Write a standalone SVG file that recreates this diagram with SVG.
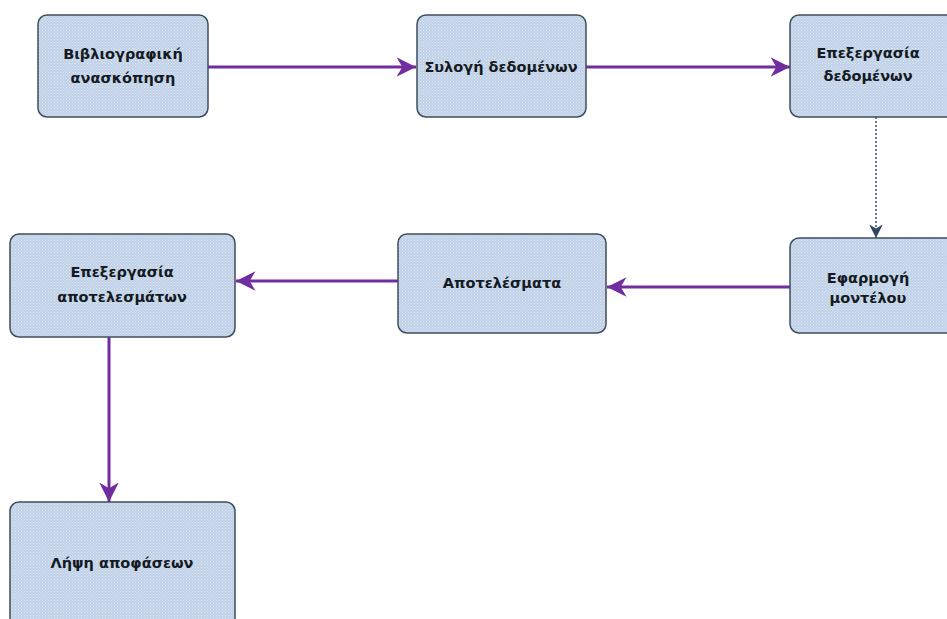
<svg xmlns="http://www.w3.org/2000/svg" width="947" height="619" viewBox="0 0 947 619">
<style>
.box{stroke:#3f4e5e;stroke-width:1.5;fill:url(#dots)}
.lbl{font-family:"DejaVu Sans",Verdana,sans-serif;font-weight:bold;font-size:14.5px;fill:#141a22;text-anchor:middle}
.pl{stroke:#6f2da0;stroke-width:3;fill:none}
.dl{stroke:#3a4a5c;stroke-width:1.5;stroke-dasharray:2 2;fill:none}
</style>
<defs>
<pattern id="dots" width="3" height="3" patternUnits="userSpaceOnUse">
<rect width="3" height="3" fill="#c1d1e8"/>
<rect x="0" y="0" width="1" height="1" fill="#dce5f2"/>
<rect x="1.5" y="1.5" width="1" height="1" fill="#dce5f2"/>
</pattern>
<marker id="ap" viewBox="0 0 10 10" refX="10" refY="5" markerWidth="6.5" markerHeight="6.5" markerUnits="strokeWidth" orient="auto">
<path d="M0,0 L10,5 L0,10 L3,5 z" fill="#6f2da0"/>
</marker>
<marker id="ad" viewBox="0 0 10 10" refX="10" refY="5" markerWidth="9" markerHeight="9" markerUnits="strokeWidth" orient="auto">
<path d="M0,0 L10,5 L0,10 L3,5 z" fill="#2f4560"/>
</marker>
</defs>
<rect width="947" height="619" fill="#ffffff"/>
<g id="connectors">
<line class="pl" x1="208" y1="67" x2="416" y2="67" marker-end="url(#ap)"/>
<line class="pl" x1="586" y1="67" x2="790" y2="67" marker-end="url(#ap)"/>
<line class="dl" x1="876" y1="117" x2="876" y2="238" marker-end="url(#ad)"/>
<line class="pl" x1="790" y1="287" x2="607" y2="287" marker-end="url(#ap)"/>
<line class="pl" x1="398" y1="281" x2="236" y2="281" marker-end="url(#ap)"/>
<line class="pl" x1="109" y1="337" x2="109" y2="502" marker-end="url(#ap)"/>
</g>
<g id="n1"><rect class="box" x="38" y="15" width="170" height="102" rx="9"/>
<text class="lbl" x="123" y="59">Βιβλιογραφική</text><text class="lbl" x="123" y="83">ανασκόπηση</text></g>
<g id="n2"><rect class="box" x="417" y="15" width="169" height="102" rx="9"/>
<text class="lbl" x="501" y="72">Συλογή δεδομένων</text></g>
<g id="n3"><rect class="box" x="790" y="15" width="170" height="102" rx="9"/>
<text class="lbl" x="868" y="58">Επεξεργασία</text><text class="lbl" x="868" y="81">δεδομένων</text></g>
<g id="n4"><rect class="box" x="790" y="238" width="170" height="95" rx="9"/>
<text class="lbl" x="868" y="283">Εφαρμογή</text><text class="lbl" x="868" y="303">μοντέλου</text></g>
<g id="n5"><rect class="box" x="398" y="234" width="208" height="99" rx="9"/>
<text class="lbl" x="502" y="288">Αποτελέσματα</text></g>
<g id="n6"><rect class="box" x="10" y="234" width="225" height="103" rx="9"/>
<text class="lbl" x="122" y="277">Επεξεργασία</text><text class="lbl" x="122" y="302">αποτελεσμάτων</text></g>
<g id="n7"><rect class="box" x="10" y="502" width="225" height="130" rx="9"/>
<text class="lbl" x="122" y="568">Λήψη αποφάσεων</text></g>
</svg>
